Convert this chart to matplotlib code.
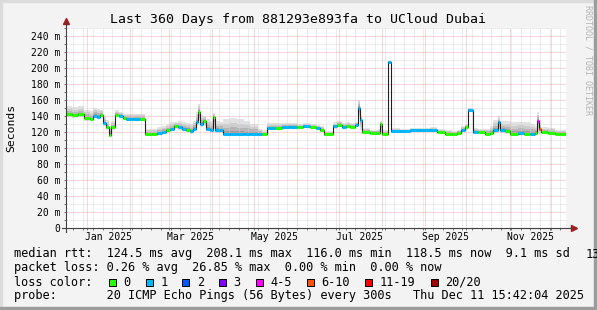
import matplotlib
matplotlib.use("Agg")
import matplotlib.pyplot as plt
import matplotlib.dates as mdates
from matplotlib.ticker import MultipleLocator, NullFormatter
from matplotlib.patches import Rectangle
from datetime import datetime, timedelta

W, H = 597, 310
MONO = "DejaVu Sans Mono"

title = "Last 360 Days from 881293e893fa to UCloud Dubai"
start = datetime(2024, 12, 16, 15, 42)
end = datetime(2025, 12, 11, 15, 42)

# day offsets from start, median rtt (ms), smoke range (ms), loss class index
day = [0, 4.3, 8.6, 13.0, 17.3, 19.4, 22.3, 24.5, 26.6, 28.8, 31.0, 32.4, 35.3, 38.2, 41.0, 43.2,
       48.2, 53.3, 56.9, 61.9, 65.5, 69.1, 72.0, 74.9, 77.8, 80.6, 83.5, 86.4, 89.3, 91.4, 93.6,
       95.0, 96.5, 98.6, 100.8, 103.7, 105.8, 107.3, 110.9, 113.0, 118.1, 123.1, 128.1, 132.5,
       138.2, 141.1, 144.7, 150.5, 155.5, 161.3, 166.3, 170.6, 175.7, 180.0, 182.9, 185.7, 192.2,
       195.1, 198.7, 201.6, 204.5, 208.1, 210.2, 211.7, 213.1, 218.9, 224.6, 226.1, 227.5, 231.8,
       234.0, 240.5, 247.7, 254.9, 262.1, 267.1, 272.9, 277.9, 281.5, 284.4, 287.3, 289.4, 293.0,
       296.6, 301.7, 305.3, 307.4, 311.0, 312.5, 316.1, 319.7, 325.4, 329.7, 334.1, 337.7, 339.1,
       340.6, 342.0, 347.0, 352.0, 355.6]
median = [142, 141, 142, 137, 136, 140, 139, 141, 131, 126, 116, 126, 141, 140, 137, 136,
          136, 136, 117, 117, 119, 120, 122, 124, 127, 126, 124, 123, 121, 124, 132,
          145, 130, 134, 124, 123, 139, 122, 122, 117, 117, 117, 117, 118,
          118, 117, 125, 125, 126, 126, 126, 127, 126, 125, 123, 117, 127,
          129, 126, 128, 126, 129, 150, 135, 120, 119, 119, 130, 118, 208,
          121, 121, 122, 122, 123, 120, 118, 117, 119, 123, 126, 148, 120,
          120, 118, 119, 122, 132, 122, 121, 118, 119, 118, 118, 119, 134,
          124, 120, 119, 118, 118]
smoke_lo = [139, 138, 139, 134, 134, 137, 136, 138, 128, 123, 114, 123, 139, 138, 135, 134,
            134, 134, 115, 115, 117, 118, 119, 121, 124, 123, 121, 120, 118, 121, 128,
            135, 126, 128, 121, 120, 125, 119, 119, 115, 115, 115, 115, 116,
            116, 115, 123, 123, 124, 124, 124, 125, 124, 123, 121, 115, 124,
            126, 124, 125, 124, 126, 140, 122, 118, 117, 117, 118, 116, 206,
            119, 119, 120, 120, 121, 118, 116, 115, 117, 120, 123, 145, 118,
            118, 116, 117, 119, 120, 119, 118, 116, 117, 116, 116, 117, 120,
            118, 118, 117, 116, 116]
smoke_hi = [152, 151, 152, 148, 146, 150, 149, 148, 140, 135, 128, 134, 147, 145, 143, 143,
            143, 143, 124, 124, 126, 128, 130, 132, 133, 134, 132, 131, 130, 134, 145,
            155, 141, 140, 136, 134, 144, 134, 133, 136, 137, 136, 134, 130,
            124, 122, 131, 131, 131, 131, 130, 131, 130, 129, 128, 121, 132,
            134, 131, 132, 131, 133, 160, 140, 125, 123, 124, 134, 122, 209,
            125, 124, 125, 125, 126, 124, 122, 121, 123, 127, 130, 150, 125,
            124, 124, 128, 135, 140, 134, 134, 132, 133, 132, 130, 128, 145,
            135, 126, 125, 123, 122]
loss = [0, 0, 0, 0, 0, 1, 1, 0, 1, 0, 0, 0, 0, 1, 0, 1,
        1, 0, 0, 0, 1, 1, 0, 1, 0, 1, 1, 0, 1, 1, 1,
        0, 1, 0, 1, 1, 0, 1, 1, 1, 1, 1, 1, 1,
        1, 0, 1, 0, 1, 1, 0, 1, 0, 1, 0, 0, 1,
        0, 1, 0, 0, 1, 1, 1, 0, 0, 0, 0, 0, 1,
        1, 1, 1, 1, 1, 0, 0, 0, 0, 1, 0, 1, 1,
        0, 0, 0, 1, 1, 1, 0, 0, 1, 0, 1, 0, 4,
        5, 0, 0, 0, 0]

loss_labels = ["0", "1", "2", "3", "4-5", "6-10", "11-19", "20/20"]
loss_colors = ["#26ff00", "#00b8ff", "#0059ff", "#7e00ff", "#ff00ff", "#ff5500", "#ff0000", "#a00000"]

yticks = [0, 20, 40, 60, 80, 100, 120, 140, 160, 180, 200, 220, 240]
month_labels = ["Jan 2025", "Mar 2025", "May 2025", "Jul 2025", "Sep 2025", "Nov 2025"]
month_label_at = ["2025-01-16", "2025-03-16", "2025-05-16", "2025-07-16", "2025-09-16", "2025-11-16"]

legend_lines = [
    "median rtt:  124.5 ms avg  208.1 ms max  116.0 ms min  118.5 ms now  9.1 ms sd",
    "packet loss: 0.26 % avg  26.85 % max  0.00 % min  0.00 % now",
    "loss color:",
    "probe:       20 ICMP Echo Pings (56 Bytes) every 300s   Thu Dec 11 15:42:04 2025",
]
legend_tail = "13"

fig = plt.figure(figsize=(W / 100, H / 100), dpi=100, facecolor="#f3f3f3")
x0, x1, yb, yt = 66, 566, 228, 28
ax = fig.add_axes([x0 / W, 1 - yb / H, (x1 - x0) / W, (yb - yt) / H])
ax.set_facecolor("white")

t = mdates.date2num([start + timedelta(days=d) for d in day])
tend = mdates.date2num(end)
te = list(t) + [tend]
med_e = median + [median[-1]]
lo_e = smoke_lo + [smoke_lo[-1]]
hi_e = smoke_hi + [smoke_hi[-1]]

# smoke: layered grey bands around the median
for f, c in [(1.0, "#e2e2e2"), (0.7, "#cdcdcd"), (0.45, "#b6b6b6"), (0.2, "#9c9c9c")]:
    lo = [m - (m - l) * f for m, l in zip(med_e, lo_e)]
    hi = [m + (h - m) * f for m, h in zip(med_e, hi_e)]
    ax.fill_between(te, lo, hi, step="post", color=c, lw=0, zorder=1)

ax.step(te, med_e, where="post", color="#202020", lw=0.8, zorder=4)
ax.hlines(median, te[:-1], te[1:], colors=[loss_colors[k] for k in loss], lw=2.2, zorder=5)

ax.set_xlim(mdates.date2num(start), tend)
ax.set_ylim(0, 250)

# grid
ax.xaxis.set_major_locator(mdates.MonthLocator())
ax.xaxis.set_minor_locator(mdates.WeekdayLocator(byweekday=mdates.SU))
ax.xaxis.set_major_formatter(NullFormatter())
ax.yaxis.set_major_locator(MultipleLocator(20))
ax.yaxis.set_minor_locator(MultipleLocator(10))
ax.set_yticks(yticks)
ax.set_yticklabels(["0" if v == 0 else f"{v} m" for v in yticks], fontfamily=MONO, fontsize=7)
ax.grid(which="major", color="#f0a4a4", lw=0.6, ls=(0, (1.2, 1.2)), zorder=3)
ax.grid(which="minor", color="#d2d2d2", lw=0.6, ls=(0, (1.2, 1.2)), zorder=2)
ax.set_axisbelow(False)
ax.tick_params(axis="both", which="both", length=1.5, width=0.7, color="#777777", pad=2.6)
ax.tick_params(axis="x", which="both", direction="out")
for s in ax.spines.values():
    s.set_visible(False)

# axes with arrows
ax.plot([0, 0], [-0.02, 1.03], transform=ax.transAxes, color="#404040", lw=0.8, clip_on=False, zorder=6)
ax.plot([-0.008, 1.01], [0, 0], transform=ax.transAxes, color="#404040", lw=0.8, clip_on=False, zorder=6)
ax.plot([0], [1.035], marker="^", ms=4.5, color="#a02020", transform=ax.transAxes, clip_on=False)
ax.plot([1.015], [0], marker=">", ms=4.5, color="#a02020", transform=ax.transAxes, clip_on=False)

for lab, d in zip(month_labels, month_label_at):
    ax.text(mdates.datestr2num(d), -9.5 / 200, lab, transform=ax.get_xaxis_transform(),
            ha="center", va="center", fontfamily=MONO, fontsize=7)

fig.text(297.5 / W, 1 - 23 / H, title, ha="center", va="baseline", fontfamily=MONO, fontsize=9.5)
fig.text(11 / W, 1 - 128 / H, "Seconds", rotation=90, ha="center", va="center", fontfamily=MONO, fontsize=8.2)
fig.text(588 / W, 1 - 60 / H, "RRDTOOL / TOBI OETIKER", rotation=270, ha="center", va="center",
         fontfamily=MONO, fontsize=6, color="#b4b4b4")

baselines = [257.5, 271.5, 285.5, 299.5]
for line, yb_ in zip(legend_lines, baselines):
    fig.text(14.5 / W, 1 - yb_ / H, line, ha="left", va="baseline", fontfamily=MONO, fontsize=8.55)
# the next legend field runs off the right edge in the original
fig.text(586 / W, 1 - 257.5 / H, legend_tail, ha="left", va="baseline", fontfamily=MONO, fontsize=8.55)

box_x = [109, 145.7, 182.4, 219.1, 255.8, 307.3, 365.4, 430.7]
for bx, lab, col in zip(box_x, loss_labels, loss_colors):
    fig.patches.append(Rectangle((bx / W, 1 - 285.5 / H), 7 / W, 7 / H, transform=fig.transFigure,
                                 facecolor=col, edgecolor="black", lw=0.7))
    fig.text((bx + 14.4) / W, 1 - 285.5 / H, lab, ha="left", va="baseline", fontfamily=MONO, fontsize=8.55)

# 3d frame
fig.patches.append(Rectangle((0, 0), 2 / W, 1, transform=fig.transFigure, color="#dcdcdc"))
fig.patches.append(Rectangle((0, 1 - 2 / H), 1, 2 / H, transform=fig.transFigure, color="#dcdcdc"))
fig.patches.append(Rectangle((1 - 3 / W, 0), 3 / W, 1, transform=fig.transFigure, color="#9c9c9c"))
fig.patches.append(Rectangle((0, 0), 1, 3 / H, transform=fig.transFigure, color="#9c9c9c"))

fig.savefig("out.png", dpi=100, facecolor=fig.get_facecolor())
